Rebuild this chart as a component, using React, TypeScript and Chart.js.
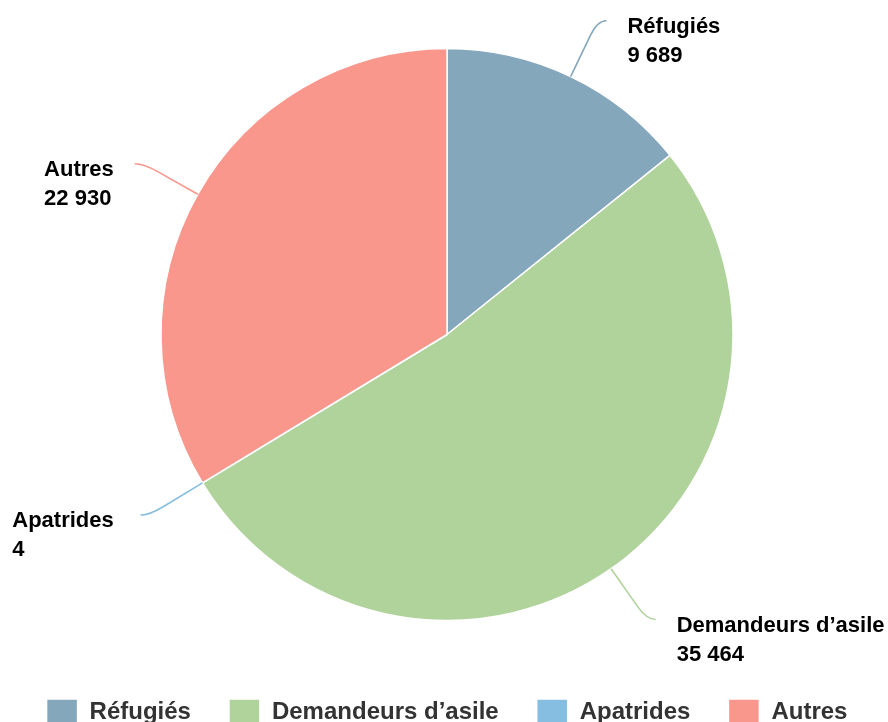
import React, { useEffect, useRef } from "react";
import { Chart, registerables } from "chart.js";

Chart.register(...registerables);

const categories = ["Réfugiés", "Demandeurs d’asile", "Apatrides", "Autres"];
const values = [9689, 35464, 4, 22930];
const colors = ["#84A7BC", "#B0D39B", "#85BEE0", "#F9978D"];

const FONT = "'Liberation Sans', Arial, Helvetica, sans-serif";

const fmt = (v: number) => String(v).replace(/\B(?=(\d{3})+(?!\d))/g, " ");

const outLabels = {
  id: "outLabels",
  afterDatasetsDraw(chart: any) {
    const ctx = chart.ctx;
    const meta = chart.getDatasetMeta(0);
    ctx.save();
    ctx.font = `bold 22px ${FONT}`;
    const items = meta.data.map((arc: any, i: number) => {
      const { x, y, startAngle, endAngle, outerRadius } = arc.getProps(
        ["x", "y", "startAngle", "endAngle", "outerRadius"],
        true
      );
      const mid = (startAngle + endAngle) / 2;
      const cos = Math.cos(mid);
      const sin = Math.sin(mid);
      const side = cos >= 0 ? 1 : -1;
      const pt = (d: number) => [x + cos * (outerRadius + d), y + sin * (outerRadius + d)];
      const [ax, ay] = pt(0);
      const [bx, by] = pt(46);
      const [cx, cy] = pt(62);
      const ex = cx + side * 9;
      const ey = cy;
      return { i, side, ax, ay, bx, by, cx, cy, ex, ey };
    });
    // left-side labels share a common right edge
    const leftEdge = Math.min(
      ...items.filter((it: any) => it.side < 0).map((it: any) => it.ex - 21)
    );
    items.forEach((it: any) => {
      const { i, side, ax, ay, bx, by, cx, cy, ex, ey } = it;
      ctx.strokeStyle = colors[i];
      ctx.lineWidth = 1.6;
      ctx.beginPath();
      ctx.moveTo(ax, ay);
      ctx.lineTo(bx, by);
      ctx.quadraticCurveTo(cx, cy, ex, ey);
      ctx.stroke();

      const lines = [categories[i], fmt(values[i])];
      const w = Math.max(...lines.map((l) => ctx.measureText(l).width));
      const left = side > 0 ? ex + 21 : leftEdge - w;
      ctx.fillStyle = "#000";
      ctx.textAlign = "left";
      ctx.textBaseline = "middle";
      lines.forEach((l, k) => ctx.fillText(l, left, ey + 6 + k * 29));
    });
    ctx.restore();
  },
};

export default function App() {
  const ref = useRef<HTMLCanvasElement | null>(null);

  useEffect(() => {
    document.body.style.margin = "0";
    document.body.style.overflow = "hidden";
    if (!ref.current) return;
    const chart = new Chart(ref.current, {
      type: "pie",
      data: {
        labels: categories,
        datasets: [
          {
            data: values,
            backgroundColor: colors,
            borderColor: "#ffffff",
            borderWidth: 1.5,
          },
        ],
      },
      options: {
        animation: false,
        responsive: false,
        radius: 286,
        layout: { padding: { top: 8, left: 6, right: 0, bottom: 0 } },
        plugins: {
          tooltip: { enabled: false },
          legend: {
            position: "bottom",
            labels: {
              boxWidth: 31,
              boxHeight: 26,
              padding: 38,
              color: "#333333",
              font: { size: 24, weight: "bold", family: FONT },
            },
          },
        },
      } as any,
      plugins: [outLabels],
    });
    return () => chart.destroy();
  }, []);

  return (
    <div style={{ width: 888, height: 722, overflow: "hidden" }}>
      <canvas ref={ref} width={888} height={735} style={{ display: "block" }} />
    </div>
  );
}
